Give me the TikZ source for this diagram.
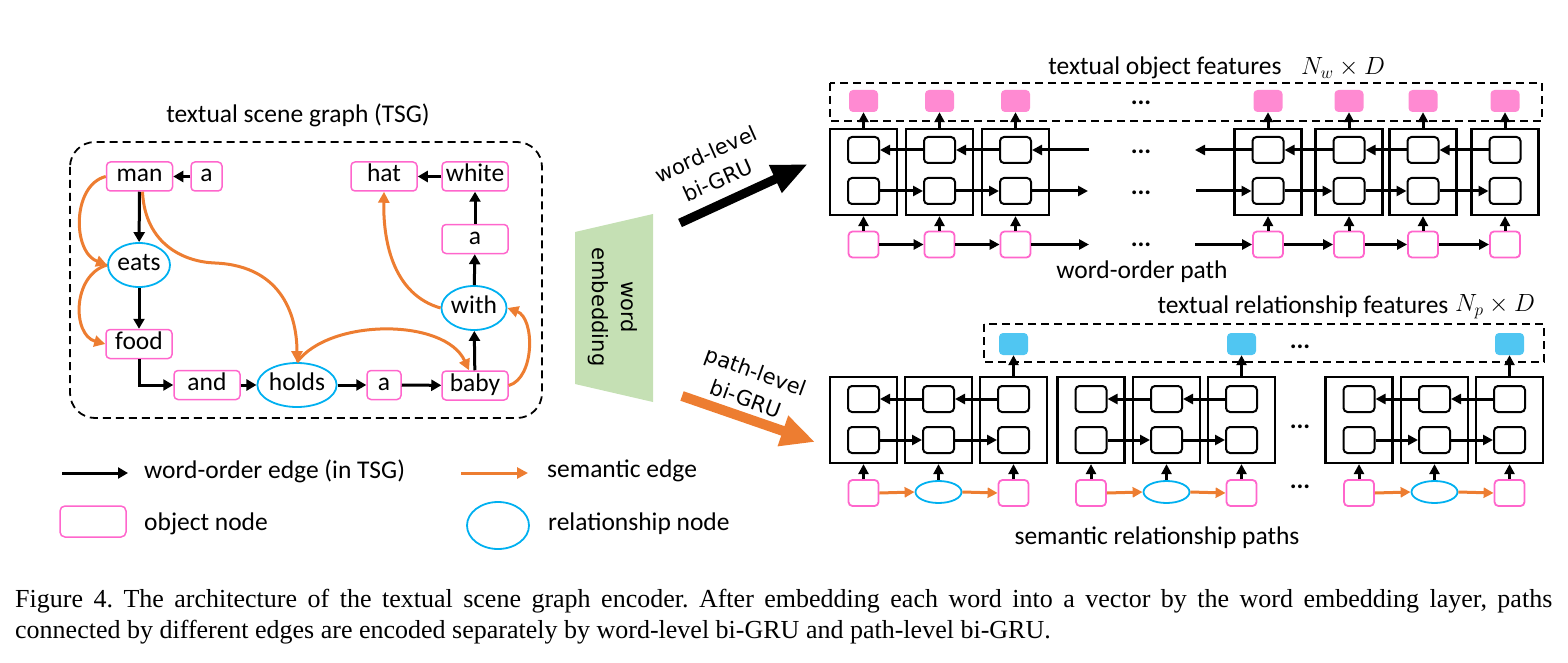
\documentclass[tikz,border=0pt]{standalone}
\usepackage{fontspec}
\setmainfont{Carlito}
\newfontfamily\dejavu{DejaVu Sans}
\newfontfamily\timesf{Liberation Serif}
\usetikzlibrary{arrows.meta,shapes.geometric,calc}
\definecolor{pinkc}{HTML}{FF66CC}
\definecolor{pinkf}{HTML}{FF8AD2}
\definecolor{bluec}{HTML}{00B0F0}
\definecolor{bluef}{HTML}{50C6F2}
\definecolor{orangec}{HTML}{ED7D31}
\definecolor{greenf}{HTML}{C5E0B4}
\newcommand{\lblfont}{\fontsize{25.5}{30}\selectfont}
\newcommand{\dvfont}{\dejavu\fontsize{21}{29}\selectfont}
\begin{document}
\begin{tikzpicture}[x=1pt,y=-1pt,
  lbl/.style={font=\lblfont, inner sep=0pt},
  obj/.style={draw=pinkc, line width=1.5pt, rounded corners=4pt, minimum width=66pt, minimum height=29pt, inner sep=0pt, font=\lblfont, text height=16pt, text depth=5pt},
  rel/.style={ellipse, draw=bluec, line width=1.8pt, minimum width=62pt, minimum height=44pt, inner sep=0pt, font=\lblfont, text height=16pt, text depth=5pt},
  wo/.style={line width=3pt, -{Triangle[length=10pt,width=11pt]}},
  se/.style={draw=orangec, line width=3pt, -{Triangle[length=11pt,width=11pt]}},
  cell/.style={draw, line width=2.2pt, minimum width=67pt, minimum height=86pt, inner sep=0pt},
  gate/.style={draw, line width=2pt, rounded corners=4pt, minimum width=31pt, minimum height=26pt, inner sep=0pt},
  inp/.style={draw=pinkc, line width=1.8pt, rounded corners=4pt, minimum width=30pt, minimum height=26pt, inner sep=0pt},
  relin/.style={ellipse, draw=bluec, line width=1.8pt, minimum width=46pt, minimum height=22pt, inner sep=0pt},
  outp/.style={fill=pinkf, rounded corners=4pt, minimum width=29pt, minimum height=22pt, inner sep=0pt},
  outb/.style={fill=bluef, rounded corners=4pt, minimum width=29pt, minimum height=22pt, inner sep=0pt},
  ga/.style={line width=3pt, -{Triangle[length=10pt,width=10pt]}},
  oa/.style={draw=orangec, line width=3pt, -{Triangle[length=10pt,width=10pt]}},
  dots/.style={font=\lblfont\bfseries, inner sep=0pt},
  dbox/.style={draw, line width=1.8pt, dash pattern=on 8pt off 5pt}
]
\useasboundingbox (0,0) rectangle (1568,663);

% ---------------- TSG ----------------
\node[lbl] (tsgtitle) at (298,115) {textual scene graph (TSG)};
\draw[dbox, rounded corners=25pt] (70,142) rectangle (542,418);

\node[obj] (man) at (139.5,176.5) {man};
\node[obj, minimum width=31pt] (a1) at (206.5,176.5) {a};
\node[obj] (hat) at (384,176.5) {hat};
\node[obj] (white) at (475,176.5) {white};
\node[obj] (a2) at (475,239) {a};
\node[rel] (eats) at (139,265) {eats};
\node[rel] (with) at (474,308) {with};
\node[obj] (food) at (139,344) {food};
\node[obj] (and) at (207,385) {and};
\node[rel, minimum width=76pt] (holds) at (297,385) {holds};
\node[obj, minimum width=34pt] (a3) at (384,385) {a};
\node[obj] (baby) at (475,385.5) {baby};

\draw[wo] (a1) -- (man);
\draw[wo] (man) -- (eats);
\draw[wo] (eats) -- (food);
\draw[wo] (food.south) |- (and.west);
\draw[wo] (and) -- (holds);
\draw[wo] (holds) -- (a3);
\draw[wo] (a3) -- (baby);
\draw[wo] (baby) -- (with);
\draw[wo] (with) -- (a2);
\draw[wo] (a2) -- (white);
\draw[wo] (white) -- (hat);

\draw[se] (man.west) .. controls (72,185) and (72,252) .. (eats.west);
\draw[se] (eats.west) .. controls (72,275) and (72,335) .. (food.west);
\coordinate (mh) at (215,263);
\draw[se] ([xshift=3pt]man.south) .. controls (145,245) and (185,262) .. (mh) .. controls (285,266) and (297,320) .. (holds.north);
\draw[se] (holds.north) .. controls (330,318) and (445,318) .. ([xshift=-6pt]baby.north);
\draw[se] (baby.east) .. controls (535,378) and (535,318) .. (with.east);
\draw[se] (with.west) .. controls (395,295) and (383,245) .. (hat.south);

% ---------------- middle ----------------
\fill[greenf] (575,232) -- (653,214) -- (653,402) -- (575,384) -- cycle;
\node[font=\dvfont, rotate=-90, align=center, inner sep=0pt] (we) at (613,307) {word\\embedding};

\coordinate (wl1) at (680,223);
\coordinate (wl2) at (808,164);
\draw[line width=9pt, -{Triangle[length=36pt,width=28pt]}] (wl1) -- (wl2);
\node[font=\dvfont, rotate=24, align=center, inner sep=0pt] (wlt) at (712,167) {word-level\\bi-GRU};

\coordinate (pl1) at (682,396);
\coordinate (pl2) at (815,442);
\draw[orangec, line width=10pt, -{Triangle[length=34pt,width=30pt]}] (pl1) -- (pl2);
\node[font=\dvfont, rotate=-20, align=center, inner sep=0pt] (plt) at (751,385) {path-level\\bi-GRU};

% ---------------- word-level bi-GRU ----------------
\node[lbl] (tof) at (1165,68) {textual object features};
\node[lbl] (tofd) at (1343,68) {$N_w\times D$};
\draw[dbox] (830,83) rectangle (1542,121);
\foreach \n/\x in {1/863.5,2/939.5,3/1015.5,4/1268,5/1349,6/1423,7/1505} {
  \node[cell] (wc\n) at (\x,172) {};
  \node[gate] (wt\n) at (\x,150) {};
  \node[gate] (wb\n) at (\x,191) {};
  \node[outp] (wo\n) at (\x,101) {};
  \node[inp] (wi\n) at (\x,244.5) {};
  \draw[ga] (wc\n.north) -- (wo\n.south);
  \draw[ga] (wi\n.north) -- (wc\n.south);
}
\foreach \a/\b in {2/1,3/2,5/4,6/5,7/6} \draw[ga] (wt\a.west) -- (wt\b.east);
\foreach \a/\b in {1/2,2/3,4/5,5/6,6/7} {
  \draw[ga] (wb\a.east) -- (wb\b.west);
  \draw[ga] (wi\a.east) -- (wi\b.west);
}
\coordinate (wtR) at (1089,150);
\coordinate (wtL) at (1195,150);
\coordinate (wbR) at (1088,191);
\coordinate (wbL) at (1196,191);
\coordinate (wiR) at (1089,244.5);
\coordinate (wiL) at (1195,244.5);
\draw[ga] (wtR) -- (wt3.east);
\draw[ga] (wt4.west) -- (wtL);
\draw[ga] (wb3.east) -- (wbR);
\draw[ga] (wbL) -- (wb4.west);
\draw[ga] (wi3.east) -- (wiR);
\draw[ga] (wiL) -- (wi4.west);
\node[dots] (wd0) at (1141,103) {...};
\node[dots] (wd1) at (1141,152) {...};
\node[dots] (wd2) at (1141,193) {...};
\node[dots] (wd3) at (1141,245) {...};
\node[lbl] (wop) at (1142,272) {word-order path};

% ---------------- path-level bi-GRU ----------------
\node[lbl] (trf) at (1303,307) {textual relationship features};
\node[lbl] (trfd) at (1495,307) {$N_p\times D$};
\draw[dbox] (984,324) rectangle (1544,362);
\foreach \n/\x in {1/863.5,2/938.5,3/1013.5,4/1091,5/1166.5,6/1241.5,7/1359,8/1434.5,9/1509.5} {
  \node[cell] (pc\n) at (\x,420) {};
  \node[gate] (pt\n) at (\x,399) {};
  \node[gate] (pb\n) at (\x,440) {};
}
\foreach \n/\x in {1/863.5,3/1013.5,4/1091,6/1241.5,7/1359,9/1509.5}
  \node[inp] (pi\n) at (\x,493) {};
\foreach \n/\x in {2/938.5,5/1166.5,8/1434.5}
  \node[relin] (pi\n) at (\x,492) {};
\foreach \n in {1,...,9} \draw[ga] (pi\n.north) -- (pc\n.south);
\foreach \n/\x in {3/1013.5,6/1241.5,9/1509.5} {
  \node[outb] (po\n) at (\x,344) {};
  \draw[ga] (pc\n.north) -- (po\n.south);
}
\foreach \a/\b in {2/1,3/2,5/4,6/5,8/7,9/8} \draw[ga] (pt\a.west) -- (pt\b.east);
\foreach \a/\b in {1/2,2/3,4/5,5/6,7/8,8/9} {
  \draw[ga] (pb\a.east) -- (pb\b.west);
  \draw[oa] (pi\a.east) -- (pi\b.west);
}
\node[dots] (pd0) at (1300,347) {...};
\node[dots] (pd1) at (1300,427) {...};
\node[dots] (pd2) at (1300,487) {...};
\node[lbl] (srp) at (1157,538) {semantic relationship paths};

% ---------------- legend ----------------
\coordinate (lg1) at (62,473);
\coordinate (lg2) at (128,473);
\draw[wo] (lg1) -- (lg2);
\node[lbl, anchor=west] (lgt1) at (144,471) {word-order edge (in TSG)};
\coordinate (lg3) at (461,473);
\coordinate (lg4) at (528,473);
\draw[se] (lg3) -- (lg4);
\node[lbl, anchor=west] (lgt2) at (547,471) {semantic edge};
\node[draw=pinkc, line width=1.5pt, rounded corners=5pt, minimum width=66pt, minimum height=31pt, inner sep=0pt] (lgo) at (93,521.5) {};
\node[lbl, anchor=west] (lgt3) at (144,524) {object node};
\node[ellipse, draw=bluec, line width=1.8pt, minimum width=62pt, minimum height=47pt, inner sep=0pt] (lgr) at (498,525.5) {};
\node[lbl, anchor=west] (lgt4) at (548,524) {relationship node};

% ---------------- caption ----------------
\node[anchor=north west, inner sep=0pt, text width=1537pt, align=justify,
  font=\timesf\fontsize{26}{31}\selectfont] (cap) at (15,589)
  {\frenchspacing\hyphenpenalty=10000 Figure 4. The architecture of the textual scene graph encoder. After embedding each word into a vector by the word embedding layer, paths\linebreak connected by different edges are encoded separately by word-level bi-GRU and path-level bi-GRU.};
\end{tikzpicture}
\end{document}
